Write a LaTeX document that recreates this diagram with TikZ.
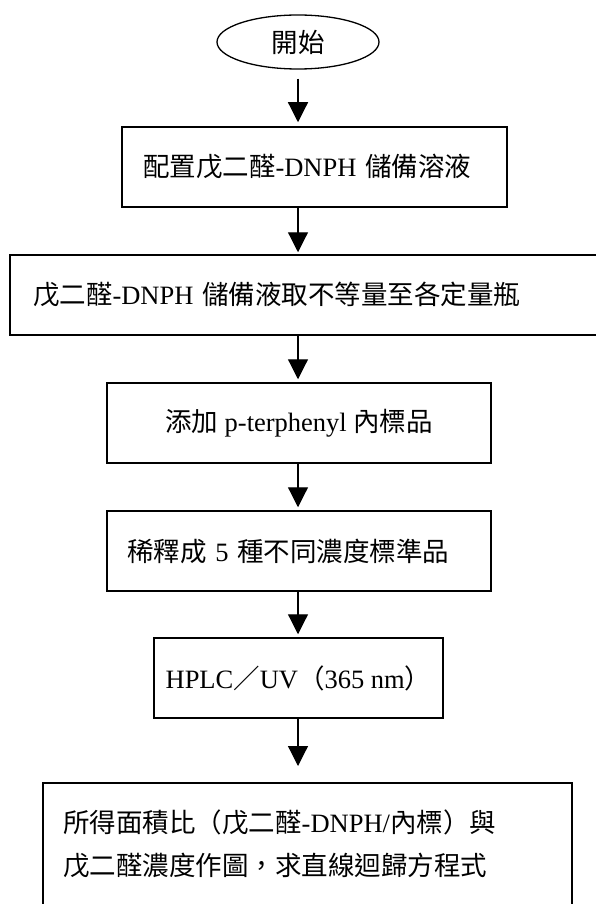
\documentclass[tikz,border=0pt]{standalone}
\usepackage{fontspec}
\setmainfont{Liberation Serif}
\newfontfamily\cjk{Noto Sans CJK TC}
\usetikzlibrary{arrows.meta,shapes.geometric}
\begin{document}
\begin{tikzpicture}[x=1pt,y=-1pt,
  txt/.style={font=\fontsize{26.5}{43}\selectfont},
  box/.style={draw, line width=1.5pt, rectangle, inner sep=0pt, minimum height=80pt, txt},
  arr/.style={line width=1.2pt, -{Triangle[width=20pt,length=20pt]}}]
\clip (0,0) rectangle (596,904);
\fill[white] (0,0) rectangle (596,904);

\node[ellipse, draw, line width=1.3pt, minimum width=162pt, minimum height=54pt, inner sep=0pt, txt] (start) at (298,42) {\cjk 開始};

\node[box, minimum width=385pt, text width=343pt, align=left] (b1) at (314.5,167) {{\cjk 配置戊二醛}-DNPH {\cjk 儲備溶液}};
\node[box, minimum width=600pt, text width=554pt, align=left] (b2) at (310,295) {{\cjk 戊二醛}-DNPH {\cjk 儲備液取不等量至各定量瓶}};
\node[box, minimum width=384pt, align=center] (b3) at (299,423) {{\cjk 添加} p-terphenyl {\cjk 內標品}};
\node[box, minimum width=384pt, text width=344pt, align=left] (b4) at (299,551) {{\cjk 稀釋成} 5 {\cjk 種不同濃度標準品}};
\node[box, minimum width=289pt, align=center] (b5) at (298.5,678) {HPLC{\cjk ／}UV{\cjk （}365 nm{\cjk ）}};
\node[box, minimum width=529pt, minimum height=140pt, anchor=north] (b6) at (307.5,782) {};
\node[txt, align=left, anchor=west, inner sep=0pt] (t6) at (63,844) {{\cjk 所得面積比（戊二醛}-DNPH/{\cjk 內標）與}\\{\cjk 戊二醛濃度作圖，求直線迴歸方程式}};

\draw[arr, shorten <=9pt, shorten >=4pt] (start.south) -- (start.south |- b1.north);
\draw[arr, shorten >=2pt] (b1.south -| start) -- (b2.north -| start);
\draw[arr, shorten >=3pt] (b2.south -| start) -- (b3.north -| start);
\draw[arr, shorten >=3pt] (b3.south -| start) -- (b4.north -| start);
\draw[arr, shorten >=3pt] (b4.south -| start) -- (b5.north -| start);
\draw[arr, shorten >=16pt] (b5.south -| start) -- (b6.north -| start);
\end{tikzpicture}
\end{document}
